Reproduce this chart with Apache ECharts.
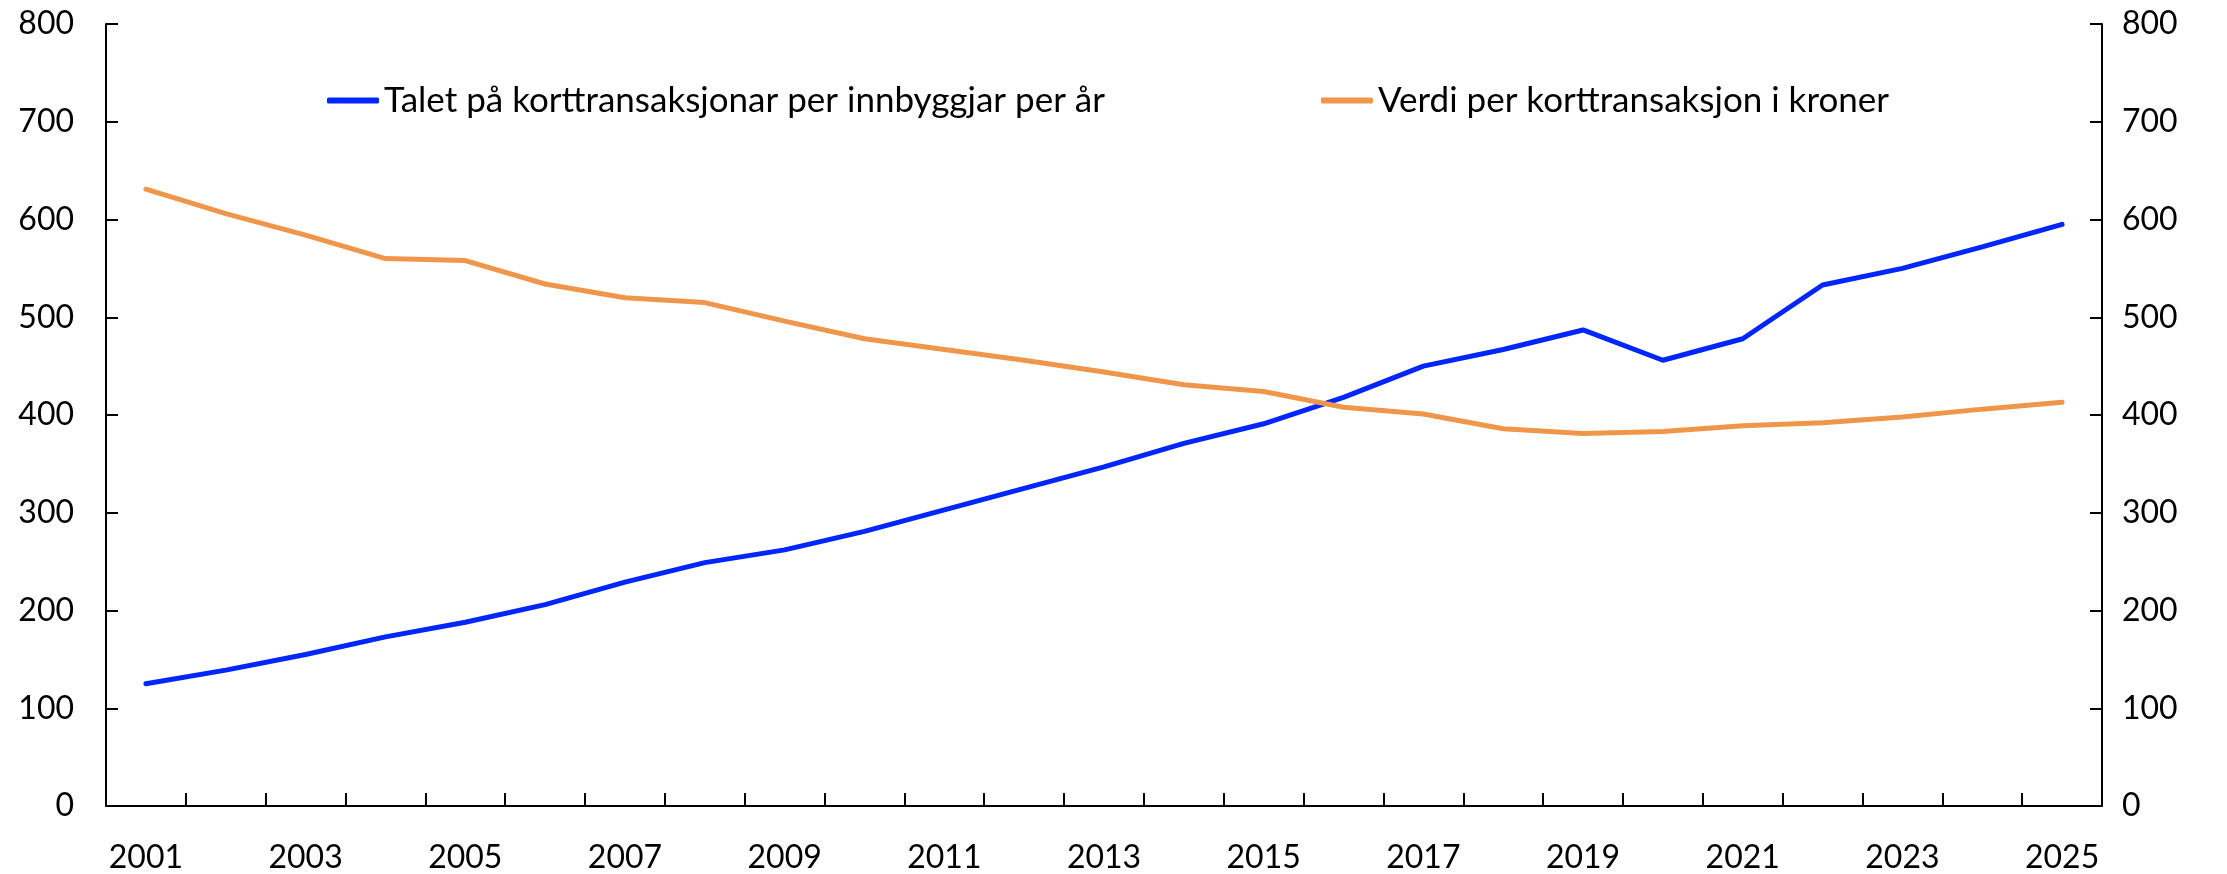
<!DOCTYPE html>
<html>
<head>
<meta charset="utf-8">
<script src="https://cdn.jsdelivr.net/npm/echarts@6/dist/echarts.min.js"></script>
<style>
  html, body { margin: 0; padding: 0; background: #fff; }
  #main { width: 2227px; height: 874px; }
</style>
</head>
<body>
<div id="main"></div>
<script>
var years = ['2001', '2002', '2003', '2004', '2005', '2006', '2007', '2008', '2009', '2010',
             '2011', '2012', '2013', '2014', '2015', '2016', '2017', '2018', '2019', '2020',
             '2021', '2022', '2023', '2024', '2025'];

// Talet på korttransaksjonar per innbyggjar per år
var transaksjonar = [125, 139, 155, 173, 188, 206, 229, 249, 262, 281,
                     303, 325, 347, 371, 391, 418, 450, 467, 487, 456,
                     478, 533, 550, 572, 595];

// Verdi per korttransaksjon i kroner
var verdi = [631, 606, 584, 560, 558, 534, 520, 515, 496, 478,
             467, 456, 444, 431, 424, 408, 401, 386, 381, 383,
             389, 392, 398, 406, 413];

var name1 = 'Talet på korttransaksjonar per innbyggjar per år';
var name2 = 'Verdi per korttransaksjon i kroner';

var fontFam = 'Lato';

var myChart = echarts.init(document.getElementById('main'));

var yAxisBase = function (pos, margin) {
    return {
        type: 'value',
        position: pos,
        min: 0,
        max: 800,
        interval: 100,
        axisLine: { show: true, lineStyle: { color: '#000', width: 2 } },
        axisTick: { show: true, inside: true, length: 12, lineStyle: { color: '#000', width: 2 } },
        axisLabel: { margin: margin, color: '#000', fontSize: 32, fontFamily: fontFam },
        splitLine: { show: false }
    };
};

var option = {
    animation: false,
    backgroundColor: '#fff',
    grid: { left: 106, right: 125, top: 24, bottom: 67 },
    legend: [
        {
            data: [name1],
            left: 322,
            top: 78,
            icon: 'roundRect',
            itemWidth: 52,
            itemHeight: 6,
            textStyle: { color: '#000', fontSize: 35, fontFamily: fontFam }
        },
        {
            data: [name2],
            left: 1316,
            top: 78,
            icon: 'roundRect',
            itemWidth: 52,
            itemHeight: 6,
            textStyle: { color: '#000', fontSize: 35, fontFamily: fontFam }
        }
    ],
    xAxis: {
        type: 'category',
        data: years,
        boundaryGap: true,
        axisLine: { show: true, lineStyle: { color: '#000', width: 2 } },
        axisTick: { show: true, inside: true, length: 13, interval: 0, lineStyle: { color: '#000', width: 2 } },
        axisLabel: { interval: 1, margin: 36, color: '#000', fontSize: 32, fontFamily: fontFam },
        splitLine: { show: false }
    },
    yAxis: [
        yAxisBase('left', 32),
        yAxisBase('right', 20)
    ],
    series: [
        {
            name: name1,
            type: 'line',
            data: transaksjonar,
            yAxisIndex: 0,
            symbol: 'none',
            color: '#0026ff',
            lineStyle: { color: '#0026ff', width: 5, cap: 'round' }
        },
        {
            name: name2,
            type: 'line',
            data: verdi,
            yAxisIndex: 1,
            symbol: 'none',
            color: '#f0964b',
            lineStyle: { color: '#f0964b', width: 5, cap: 'round' }
        }
    ]
};

myChart.setOption(option);
</script>
</body>
</html>
